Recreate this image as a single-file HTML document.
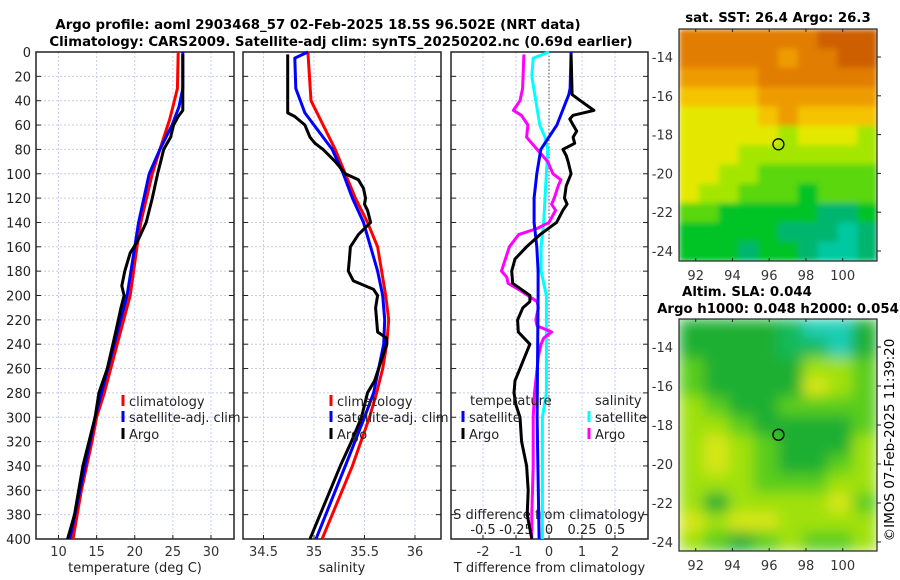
<!DOCTYPE html>
<html><head><meta charset="utf-8"><style>
html,body{margin:0;padding:0;background:#fff;}
svg{display:block;font-family:"DejaVu Sans","Liberation Sans",sans-serif;}
</style></head><body>
<svg id="fig" width="900" height="580" viewBox="0 0 900 580" xmlns="http://www.w3.org/2000/svg">
<defs>
<filter id="blurS" x="0" y="0" width="1" height="1"><feGaussianBlur stdDeviation="3" edgeMode="duplicate"/></filter>
<filter id="blurL" x="0" y="0" width="1" height="1"><feGaussianBlur stdDeviation="7" edgeMode="duplicate"/></filter>
<clipPath id="clipS"><rect x="679" y="29" width="198" height="232"/></clipPath>
<clipPath id="clipL"><rect x="679" y="319" width="198" height="232"/></clipPath>
</defs>
<text x="318" y="29" text-anchor="middle" font-size="13.3" font-weight="bold">Argo profile: aoml 2903468_57 02-Feb-2025 18.5S 96.502E (NRT data)</text>
<text x="341" y="46" text-anchor="middle" font-size="13.3" font-weight="bold">Climatology: CARS2009. Satellite-adj clim: synTS_20250202.nc (0.69d earlier)</text>
<text x="778" y="22" text-anchor="middle" font-size="13.3" font-weight="bold">sat. SST: 26.4 Argo: 26.3</text>
<text x="747" y="296" text-anchor="middle" font-size="13.3" font-weight="bold">Altim. SLA: 0.044</text>
<text x="778" y="313" text-anchor="middle" font-size="13.3" font-weight="bold">Argo h1000: 0.048 h2000: 0.054</text>
<text transform="translate(894,440) rotate(-90)" text-anchor="middle" font-size="13.5">©IMOS 07-Feb-2025 11:39:20</text>
</svg>
<script>
// ---- data ----
const depthTicks=[0,20,40,60,80,100,120,140,160,180,200,220,240,260,280,300,320,340,360,380,400];
const tempTicks=[10,15,20,25,30];
const salTicks=[34.5,35,35.5,36];
const tdTicks=[-2,-1,0,1,2];
const sdTicks=[-0.5,-0.25,0,0.25,0.5];
const tClimDepth=[0,30,45,55,80,100,140,160,200,240,280,300,320,360,400];
const tClim=[25.7,25.6,25.0,24.6,23.3,22.3,20.8,20.3,19.4,17.7,16.0,15.0,14.4,13.0,11.9];
const tSatDepth=[0,30,45,60,80,100,140,200,300,400];
const tSat=[26.3,26.3,25.8,24.9,23.3,21.9,20.5,19.0,14.8,11.5];
const tArgoDepth=[2,48,53,60,70,80,90,100,120,140,155,165,180,192,200,210,230,260,280,300,340,380,400];
const tArgo=[26.3,26.3,25.7,25.1,24.7,23.8,23.4,23.0,22.3,21.5,20.4,19.4,18.7,18.3,18.6,18.2,17.5,16.4,15.3,14.8,13.2,12.1,11.2];
const sClimDepth=[0,40,60,80,100,120,140,160,200,220,240,260,280,300,340,400];
const sClim=[34.94,34.97,35.09,35.21,35.31,35.41,35.53,35.63,35.71,35.74,35.72,35.68,35.62,35.55,35.38,35.08];
const sSatDepth=[0,5,30,50,80,100,120,140,160,180,200,220,240,280,300,340,400];
const sSat=[34.94,34.81,34.82,34.91,35.18,35.29,35.38,35.49,35.56,35.63,35.68,35.70,35.69,35.59,35.50,35.31,35.02];
const sArgoDepth=[2,50,53,60,70,75,80,90,95,100,105,112,120,125,130,140,150,160,170,180,188,195,200,205,210,220,230,235,240,250,260,270,280,300,320,340,360,380,400];
const sArgo=[34.74,34.74,34.81,34.91,34.96,35.01,35.09,35.21,35.26,35.31,35.44,35.49,35.51,35.50,35.53,35.56,35.44,35.36,35.35,35.34,35.39,35.59,35.63,35.62,35.61,35.62,35.63,35.72,35.72,35.68,35.64,35.60,35.53,35.47,35.37,35.26,35.16,35.06,34.96];
const dTSatDepth=[0,30,35,60,80,100,120,140,160,180,200,300,400];
const dTSat=[0.67,0.64,0.6,0.24,-0.25,-0.37,-0.45,-0.45,-0.37,-0.33,-0.33,-0.36,-0.3];
const dTArgoDepth=[2,35,40,48,52,55,60,65,70,75,80,85,90,100,110,120,125,130,140,150,160,170,180,190,200,205,210,220,230,240,250,260,270,280,290,300,320,340,360,380,400];
const dTArgo=[0.67,0.7,0.95,1.36,0.73,0.63,0.73,0.84,0.73,0.78,0.42,0.52,0.58,0.67,0.52,0.47,0.55,0.42,0.23,-0.27,-0.68,-1.03,-1.13,-1.1,-0.58,-0.58,-0.79,-0.95,-0.93,-0.58,-0.73,-0.88,-1.03,-1.06,-1.0,-0.88,-0.83,-0.68,-0.63,-0.66,-0.52];
const dSSatDepth=[0,5,20,40,60,70,80,100,120,140,160,180,200,280,300,400];
const dSSat=[0,-0.12,-0.13,-0.10,-0.07,-0.03,-0.01,-0.02,-0.03,-0.04,-0.06,-0.06,-0.02,-0.02,-0.05,-0.05];
const dSArgoDepth=[2,30,40,48,52,60,70,75,80,90,100,105,110,120,125,130,140,145,150,160,170,180,185,190,195,200,205,210,220,225,230,235,240,250,260,280,300,340,380,400];
const dSArgo=[-0.19,-0.2,-0.22,-0.27,-0.21,-0.16,-0.17,-0.13,-0.09,-0.01,0.03,0.09,0.07,0.04,0.02,0.05,0.0,-0.09,-0.23,-0.3,-0.33,-0.36,-0.32,-0.31,-0.23,-0.16,-0.09,-0.08,-0.1,-0.09,0.02,-0.04,-0.06,-0.08,-0.09,-0.11,-0.12,-0.12,-0.13,-0.13];
const lonTicks=[92,94,96,98,100];
const latTicks=[-14,-16,-18,-20,-22,-24];
const argoLon=96.502, argoLat=-18.5;
const sstGrid=[
[8,8,8,8,8,8,8,9,9,9],[8,8,8,8,8,7,8,8,9,9],[7,7,7,7,8,8,8,8,8,8],[6,6,6,6,7,7,7,7,7,7],
[5,5,5,5,6,7,6,6,6,6],[5,5,5,5,5,4,5,5,5,4],[5,5,5,4,4,4,4,4,4,4],[5,5,4,4,3,3,3,3,3,3],
[5,4,4,3,3,3,2,3,3,3],[3,3,2,2,2,2,2,1,1,2],[2,2,2,2,2,1,1,1,0,1],[2,2,2,1,2,2,1,0,0,1]];
const slaGrid=[
[2,2,2,2,1,0,0,2],[2,2,2,2,1,1,0,2],[3,2,2,2,2,4,4,3],[3,2,2,2,2,5,4,3],
[4,3,2,2,3,3,3,3],[4,4,3,2,2,2,2,3],[4,5,4,3,2,2,2,4],[4,5,4,3,2,2,3,4],
[4,4,4,3,3,3,4,4],[4,2,4,4,4,4,5,3],[5,4,5,5,4,4,4,4],[4,3,2,3,4,3,3,4]];
const sstColors=["rgb(0,200,160)","rgb(0,182,110)","rgb(0,195,40)","rgb(90,215,15)","rgb(165,230,0)","rgb(228,232,0)","rgb(245,195,0)","rgb(238,155,0)","rgb(225,125,0)","rgb(205,95,0)"];
const slaColors=["rgb(30,205,180)","rgb(20,185,90)","rgb(30,175,50)","rgb(90,205,30)","rgb(160,225,10)","rgb(215,230,20)","rgb(240,200,30)"];

// ---- helpers ----
const svg=document.getElementById('fig');
const NS='http://www.w3.org/2000/svg';
function mk(tag,attrs,parent){const e=document.createElementNS(NS,tag);for(const k in attrs)e.setAttribute(k,attrs[k]);(parent||svg).appendChild(e);return e;}
const Y0=52,Y1=539;
const yD=d=>Y0+d*(Y1-Y0)/400;
function lin(d0,d1,r0,r1){return v=>r0+(v-d0)*(r1-r0)/(d1-d0);}
const panels=[
 {name:'temperature-panel',x0:36,x1:234,sx:lin(10,30,58.5,211),ticks:tempTicks,title:'temperature (deg C)',fmt:v=>v},
 {name:'salinity-panel',x0:243,x1:441,sx:lin(34.5,36,263.5,415),ticks:salTicks,title:'salinity',fmt:v=>v},
 {name:'difference-panel',x0:451,x1:648,sx:lin(0,2,549,615),ticks:tdTicks,title:'T difference from climatology',fmt:v=>v}
];
panels.forEach((p,i)=>{
 const g=mk('g',{});
 
 
 depthTicks.forEach(d=>{const l=mk('line',{x1:p.x0,x2:p.x1,y1:yD(d),y2:yD(d),stroke:'#c8cce8','stroke-width':1,'stroke-dasharray':'2,2'},g);
  });
 p.ticks.forEach(t=>{const x=p.sx(t);const l=mk('line',{x1:x,x2:x,y1:Y0,y2:Y1,stroke:'#c8cce8','stroke-width':1,'stroke-dasharray':'2,2'},g);
  
  const tx=mk('text',{x:x,y:556,'text-anchor':'middle','font-size':13,fill:'#333'},g);tx.textContent=p.fmt(t);
  
  mk('line',{x1:x,x2:x,y1:Y1,y2:Y1-4,stroke:'#222'},g);});
 depthTicks.forEach(d=>{mk('line',{x1:p.x0,x2:p.x0+5,y1:yD(d),y2:yD(d),stroke:'#222'},g);mk('line',{x1:p.x1,x2:p.x1-5,y1:yD(d),y2:yD(d),stroke:'#222'},g);});
 const r=mk('rect',{x:p.x0,y:Y0,width:p.x1-p.x0,height:Y1-Y0,fill:'none',stroke:'#222','stroke-width':1.5},g);
 
 const t=mk('text',{x:(p.x0+p.x1)/2,y:572,'text-anchor':'middle','font-size':13,fill:'#222'},g);t.textContent=p.title;
 
});
depthTicks.forEach(d=>{const t=mk('text',{x:31,y:yD(d)+5,'text-anchor':'end','font-size':13,fill:'#222'});t.textContent=d;
 });
const zl=mk('line',{x1:549,x2:549,y1:Y0,y2:Y1,stroke:'#555','stroke-dasharray':'1.5,2'});

const sdx=lin(0,0.5,549,615);
sdTicks.forEach(v=>{const t=mk('text',{x:sdx(v),y:534,'text-anchor':'middle','font-size':13,fill:'#222'});t.textContent=v;
 });
const st=mk('text',{x:549,y:519,'text-anchor':'middle','font-size':13,fill:'#222'});st.textContent='S difference from climatology';


function line(depths,vals,sx,color,name){
 const pts=depths.map((d,i)=>sx(vals[i]).toFixed(1)+','+yD(d).toFixed(1)).join(' ');
 const pl=mk('polyline',{points:pts,fill:'none',stroke:color,'stroke-width':3,'stroke-linejoin':'round'});
 
 
}
const sT=panels[0].sx,sS=panels[1].sx,sTD=panels[2].sx;
line(tClimDepth,tClim,sT,'#ff0000','temp-climatology-line');
line(tSatDepth,tSat,sT,'#0000ff','temp-satellite-line');
line(tArgoDepth,tArgo,sT,'#000','temp-argo-line');
line(sClimDepth,sClim,sS,'#ff0000','sal-climatology-line');
line(sSatDepth,sSat,sS,'#0000ff','sal-satellite-line');
line(sArgoDepth,sArgo,sS,'#000','sal-argo-line');
line(dSSatDepth,dSSat,sdx,'#00ffff','sdiff-satellite-line');
line(dSArgoDepth,dSArgo,sdx,'#ff00ff','sdiff-argo-line');
line(dTSatDepth,dTSat,sTD,'#0000ff','tdiff-satellite-line');
line(dTArgoDepth,dTArgo,sTD,'#000','tdiff-argo-line');

function legend(x,y,color,label,name){
 const g=mk('g',{});
 
 
 mk('rect',{x:x-1.5,y:y-11,width:3,height:11,fill:color},g);
 const t=mk('text',{x:x+6,y:y,'font-size':13,fill:'#222'},g);t.textContent=label;
}
legend(123,406,'#ff0000','climatology','legend-temp-climatology');
legend(123,422,'#0000ff','satellite-adj. clim','legend-temp-satellite');
legend(123,439,'#000','Argo','legend-temp-argo');
legend(331,406,'#ff0000','climatology','legend-sal-climatology');
legend(331,422,'#0000ff','satellite-adj. clim','legend-sal-satellite');
legend(331,439,'#000','Argo','legend-sal-argo');
const lt=mk('text',{x:470,y:405,'font-size':13,fill:'#222'});lt.textContent='temperature';

const ls=mk('text',{x:595,y:405,'font-size':13,fill:'#222'});ls.textContent='salinity';

legend(463,422,'#0000ff','satellite','legend-tdiff-satellite');
legend(463,439,'#000','Argo','legend-tdiff-argo');
legend(589,422,'#00ffff','satellite','legend-sdiff-satellite');
legend(589,439,'#ff00ff','Argo','legend-sdiff-argo');

function map(name,x0,y0,x1,y1,lon92,lon100,lat14,lat24,grid,colors,labelY,filt,clip){
 const g=mk('g',{});
 
 
 const cg=mk('g',{'clip-path':'url(#'+clip+')'},g);
 const fg=mk('g',{filter:'url(#'+filt+')'},cg);
 const rows=grid.length,cols=grid[0].length,cw=(x1-x0)/cols,ch=(y1-y0)/rows;
 grid.forEach((row,r)=>row.forEach((v,c)=>{
  const cell=mk('rect',{x:(x0+c*cw).toFixed(2),y:(y0+r*ch).toFixed(2),width:(cw+0.6).toFixed(2),height:(ch+0.6).toFixed(2),fill:colors[v]},fg);
  
  
 }));
 const lx=lin(92,100,lon92,lon100),ly=lin(-14,-24,lat14,lat24);
 mk('rect',{x:x0,y:y0,width:x1-x0,height:y1-y0,fill:'none',stroke:'#222','stroke-width':1.2},g);
 lonTicks.forEach(v=>{const x=lx(v);mk('line',{x1:x,x2:x,y1:y0,y2:y0+3,stroke:'#222'},g);mk('line',{x1:x,x2:x,y1:y1,y2:y1-3,stroke:'#222'},g);
  const t=mk('text',{x:x,y:labelY,'text-anchor':'middle','font-size':13,fill:'#333'},g);t.textContent=v;
  });
 latTicks.forEach(v=>{const y=ly(v);mk('line',{x1:x1,x2:x1+4,y1:y,y2:y,stroke:'#222'},g);
  const t=mk('text',{x:673,y:y+5,'text-anchor':'end','font-size':13,fill:'#333'},g);t.textContent=v;
  });
 const c=mk('circle',{cx:lx(argoLon),cy:ly(argoLat),r:5.5,fill:'none',stroke:'#000','stroke-width':1.3},g);
 
}
map('sst-map',679,29,877,261,695.7,842.7,57,251,sstGrid,sstColors,280,'blurS','clipS');
map('sla-map',679,319,877,551,695.7,842.7,347,542,slaGrid,slaColors,570,'blurL','clipL');
</script>
</body></html>
